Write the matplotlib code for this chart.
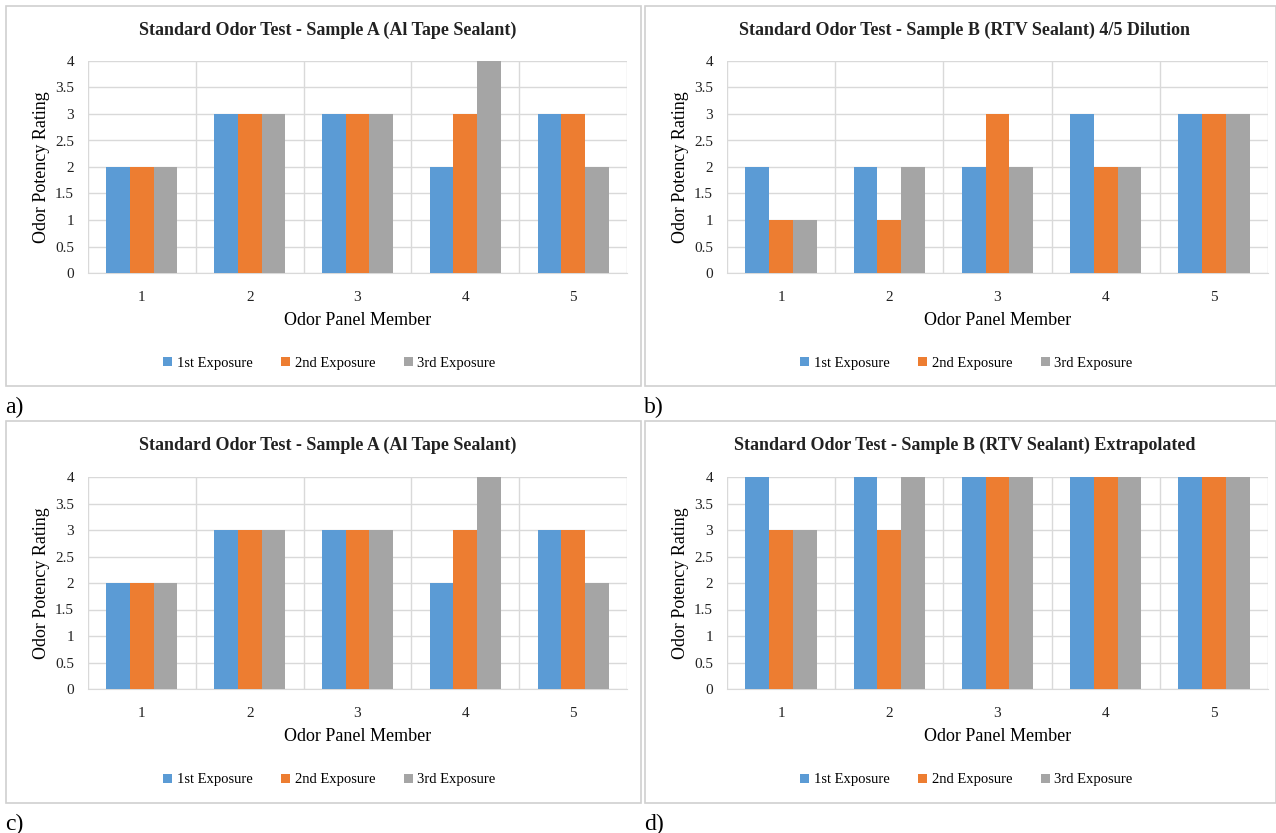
import numpy as np
import matplotlib
matplotlib.use("Agg")
import matplotlib.pyplot as plt
from matplotlib.patches import Rectangle

plt.rcParams['font.family'] = ['Liberation Serif', 'DejaVu Serif']

members = [1, 2, 3, 4, 5]
series_names = ["1st Exposure", "2nd Exposure", "3rd Exposure"]
colors = ["#5B9BD5", "#ED7D31", "#A5A5A5"]

# sample A (Al tape sealant)
a_first = [2, 3, 3, 2, 3]
a_second = [2, 3, 3, 3, 3]
a_third = [2, 3, 3, 4, 2]

# sample B 4/5 dilution
b_first = [2, 2, 2, 3, 3]
b_second = [1, 1, 3, 2, 3]
b_third = [1, 2, 2, 2, 3]

# sample B extrapolated
d_first = [4, 4, 4, 4, 4]
d_second = [3, 3, 4, 4, 4]
d_third = [3, 4, 4, 4, 4]

titles = ["Standard Odor Test - Sample A (Al Tape Sealant)",
          "Standard Odor Test - Sample B (RTV Sealant) 4/5 Dilution",
          "Standard Odor Test - Sample A (Al Tape Sealant)",
          "Standard Odor Test - Sample B (RTV Sealant) Extrapolated"]
panel_labels = ["a)", "b)", "c)", "d)"]
yticks = [0, 0.5, 1, 1.5, 2, 2.5, 3, 3.5, 4]
ytick_labels = ["0", "0.5", "1", "1.5", "2", "2.5", "3", "3.5", "4"]

W, H = 1276, 833
fig = plt.figure(figsize=(W / 100, H / 100), dpi=100)


def fx(x):
    return x / W


def fy(y):
    return 1 - y / H


datasets = [(a_first, a_second, a_third),
            (b_first, b_second, b_third),
            (a_first, a_second, a_third),
            (d_first, d_second, d_third)]

# (box left, box top, box right, box bottom, plot left, plot top, plot right, plot bottom)
panels = [(6, 6, 641, 386, 88, 61, 627, 273),
          (645, 6, 1276, 386, 727, 61, 1268, 273),
          (6, 421, 641, 803, 88, 477, 627, 689),
          (645, 421, 1276, 803, 727, 477, 1268, 689)]

grid_c = "#d9d9d9"
bw = 0.22

for i, (bl, bt, br, bb, pl, pt, pr, pb) in enumerate(panels):
    fig.patches.append(Rectangle((fx(bl), fy(bb)), fx(br - bl), (bb - bt) / H,
                                 transform=fig.transFigure, fill=False,
                                 edgecolor="#d0d0d0", lw=1.2))
    fig.text(fx(bl - 1), fy(bb + 21), panel_labels[i], fontsize=17,
             va="center", ha="left")
    fig.text(fx((bl + br) / 2 + 4), fy(bt + 24), titles[i], fontsize=13,
             fontweight="bold", ha="center", va="center", color="#222222")

    ax = fig.add_axes([fx(pl), fy(pb), fx(pr - pl), (pb - pt) / H])
    x = np.arange(len(members))
    for k, vals in enumerate(datasets[i]):
        ax.bar(x + (k - 1) * bw, vals, width=bw, color=colors[k],
               label=series_names[k], zorder=3)
    ax.set_xlim(-0.5, 4.5)
    ax.set_ylim(0, 4)
    ax.set_yticks(yticks)
    ax.set_yticklabels(ytick_labels)
    ax.set_xticks(x)
    ax.set_xticklabels([str(m) for m in members])
    ax.set_xticks(np.arange(-0.5, 5, 1), minor=True)
    ax.grid(axis="y", which="major", color=grid_c, lw=1, zorder=0)
    ax.grid(axis="x", which="minor", color=grid_c, lw=1, zorder=0)
    ax.tick_params(axis="both", which="both", length=0, labelsize=11,
                   colors="#222222")
    ax.tick_params(axis="x", pad=13)
    ax.tick_params(axis="y", pad=10)
    for s in ["top", "right", "left"]:
        ax.spines[s].set_visible(False)
    ax.spines["bottom"].set_color(grid_c)
    ax.set_xlabel("Odor Panel Member", fontsize=13, labelpad=6)
    ax.set_ylabel("Odor Potency Rating", fontsize=13)
    ax.yaxis.set_label_coords((50 - pl + bl - 6) / (pr - pl), 0.5)
    cx = (bl + br) / 2 + 6
    ax.legend(loc="center", bbox_to_anchor=(fx(cx), fy(bb - 23)),
              bbox_transform=fig.transFigure, ncol=3, frameon=False,
              fontsize=10.5, handlelength=0.6, handleheight=0.6,
              handletextpad=0.3, columnspacing=2.0)

fig.savefig("out.png", dpi=100)
